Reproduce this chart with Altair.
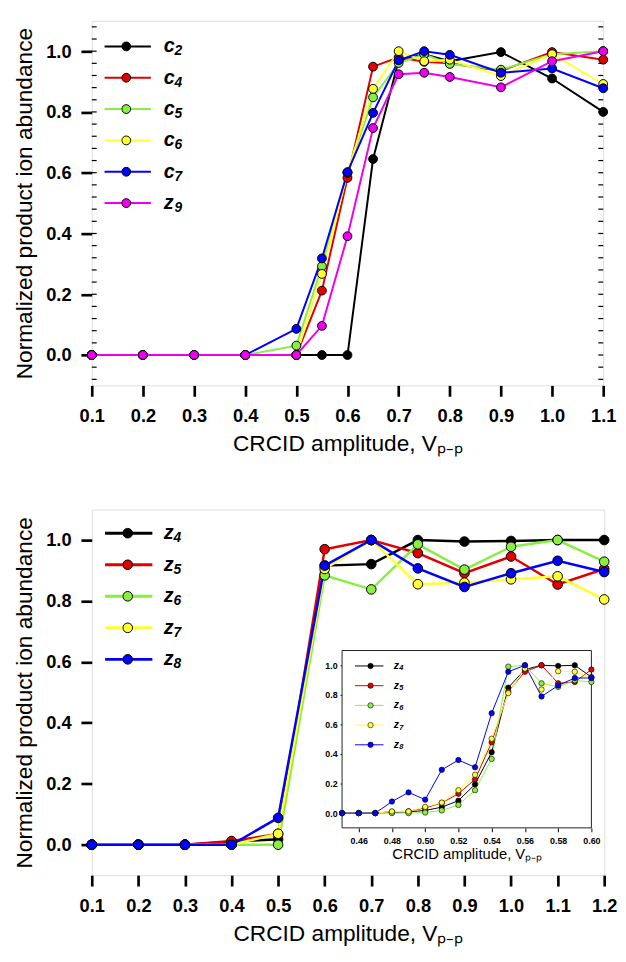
import altair as alt
import pandas as pd

FONT = "Liberation Sans"

# ---------------- data ----------------
top_x = [0.1, 0.2, 0.3, 0.4, 0.5, 0.55, 0.6, 0.65, 0.7, 0.75, 0.8, 0.9, 1.0, 1.1]
top_keys = ["c2", "c4", "c5", "c6", "c7", "z9"]          # ion letter + index
c2 = [0, 0, 0, 0, 0, 0, 0, 0.645, 0.97, 0.99, 0.967, 0.997, 0.91, 0.80]
c4 = [0, 0, 0, 0, 0, 0.212, 0.583, 0.949, 0.98, 0.965, 0.96, 0.935, 0.997, 0.972]
c5 = [0, 0, 0, 0, 0.031, 0.292, 0.60, 0.848, 0.961, 0.99, 0.958, 0.939, 0.99, 1.0]
c6 = [0, 0, 0, 0, 0, 0.267, 0.60, 0.876, 1.0, 0.967, 0.972, 0.918, 0.99, 0.892]
c7 = [0, 0, 0, 0, 0.086, 0.318, 0.602, 0.797, 0.97, 1.0, 0.988, 0.929, 0.943, 0.878]
z9 = [0, 0, 0, 0, 0, 0.096, 0.391, 0.747, 0.924, 0.929, 0.915, 0.881, 0.967, 1.0]
top_series = [c2, c4, c5, c6, c7, z9]
top_colors = ["#000000", "#e00000", "#88ee44", "#ffff33", "#0000ff", "#ee00ee"]

bot_x = [0.1, 0.2, 0.3, 0.4, 0.5, 0.6, 0.7, 0.8, 0.9, 1.0, 1.1, 1.2]
bot_keys = ["z4", "z5", "z6", "z7", "z8"]
z4 = [0, 0, 0, 0.01, 0.018, 0.916, 0.921, 1.0, 0.995, 0.997, 1.0, 1.0]
z5 = [0, 0, 0, 0.012, 0.035, 0.97, 1.0, 0.957, 0.891, 0.946, 0.854, 0.905]
z6 = [0, 0, 0, 0, 0, 0.884, 0.838, 0.986, 0.903, 0.978, 1.0, 0.929]
z7 = [0, 0, 0, 0, 0.036, 0.905, 1.0, 0.855, 0.86, 0.871, 0.881, 0.805]
z8 = [0, 0, 0, 0, 0.088, 0.916, 1.0, 0.907, 0.846, 0.891, 0.932, 0.895]
bot_series = [z4, z5, z6, z7, z8]
bot_colors = ["#000000", "#e00000", "#88ee44", "#ffff33", "#0000ff"]

ins_x = [0.45, 0.46, 0.47, 0.48, 0.49, 0.50, 0.51, 0.52, 0.53, 0.54, 0.55, 0.56, 0.57, 0.58, 0.59, 0.60]
iz4 = [0, 0, 0, 0.005, 0.008, 0.018, 0.04, 0.084, 0.195, 0.412, 0.849, 0.971, 1.0, 0.996, 1.0, 0.92]
iz5 = [0, 0, 0, 0.01, 0.012, 0.035, 0.069, 0.131, 0.228, 0.479, 0.823, 0.956, 1.0, 0.878, 0.887, 0.971]
iz6 = [0, 0, 0, 0, 0, 0.004, 0.018, 0.055, 0.155, 0.366, 0.991, 1.0, 0.878, 0.854, 0.898, 0.887]
iz7 = [0, 0, 0, 0.011, 0.011, 0.042, 0.071, 0.155, 0.259, 0.503, 0.812, 0.978, 0.836, 0.96, 0.956, 0.916]
iz8 = [0, 0, 0, 0.078, 0.14, 0.091, 0.293, 0.359, 0.31, 0.676, 0.956, 1.0, 0.789, 0.863, 0.914, 0.914]
ins_series = [iz4, iz5, iz6, iz7, iz8]

top_xticks = [0.1, 0.2, 0.3, 0.4, 0.5, 0.6, 0.7, 0.8, 0.9, 1.0, 1.1]
bot_xticks = [0.1, 0.2, 0.3, 0.4, 0.5, 0.6, 0.7, 0.8, 0.9, 1.0, 1.1, 1.2]
y_ticks = [0.0, 0.2, 0.4, 0.6, 0.8, 1.0]
ins_xticks = [0.46, 0.48, 0.50, 0.52, 0.54, 0.56, 0.58, 0.60]
minor_ticks = [-0.08, -0.04, 0.0, 0.04, 0.08, 0.12, 0.16, 0.20, 0.24, 0.28, 0.32,
               0.36, 0.40, 0.44, 0.48, 0.52, 0.56, 0.60, 0.64, 0.68, 0.72, 0.76,
               0.80, 0.84, 0.88, 0.92, 0.96, 1.00, 1.04, 1.08]

Y_DOM = [-0.1, 1.1]
TOP_XDOM = [0.1, 1.1]
BOT_XDOM = [0.1, 1.2]
INS_XDOM = [0.45, 0.60]

XTITLE = "CRCID amplitude, Vₚ₋ₚ"
YTITLE = "Normalized product ion abundance"


def long_df(xs, keys, series, tag):
    rows = []
    for k, s in zip(keys, series):
        for x, y in zip(xs, s):
            # s: line key, k: dot key, d: subscript key (distinct legend domains)
            rows.append({"x": x, "y": y, "s": k + tag, "k": k + tag + ".", "d": k + tag + ":"})
    return pd.DataFrame(rows)


AX = dict(labelFont=FONT, labelFontSize=18.5, labelFontWeight="bold", labelColor="black",
          tickColor="black", tickWidth=2.7, tickSize=11, domain=False,
          grid=False, titleFont=FONT, titleFontSize=23, titleFontWeight="normal",
          titleColor="black", labelOverlap=False, labelFlush=False)


def main_x(dom, ticks):
    return alt.X("x:Q", scale=alt.Scale(domain=dom, nice=False, zero=False),
                 axis=alt.Axis(values=ticks, format=".1f", title=XTITLE, labelPadding=11,
                               titlePadding=8, **AX))


def main_y():
    return alt.Y("y:Q", scale=alt.Scale(domain=Y_DOM, nice=False, zero=False),
                 axis=alt.Axis(values=y_ticks, format=".1f", title=YTITLE, labelPadding=10,
                               titlePadding=9, **AX))


COMMON_LEG = dict(title=None, orient="none", padding=0, direction="vertical",
                  labelFont=FONT, labelColor="black")


def line_legend(x, y, length, width, fsize, clip, rowpad, offset):
    # coloured line + ion letter
    return alt.Legend(legendX=x, legendY=y, symbolType="stroke", symbolSize=length * length,
                      symbolStrokeWidth=width, labelFontSize=fsize, labelFontStyle="italic",
                      labelFontWeight="bold", labelOffset=offset, clipHeight=clip,
                      rowPadding=rowpad, labelExpr="substring(datum.label, 0, 1)", **COMMON_LEG)


def dot_legend(x, y, size, sw, clip, rowpad):
    # filled circle with black outline, no label
    return alt.Legend(legendX=x, legendY=y, symbolType="circle", symbolSize=size,
                      symbolStrokeColor="black", symbolStrokeWidth=sw, symbolOpacity=1,
                      labelOpacity=0, labelFontSize=6, clipHeight=clip, rowPadding=rowpad,
                      **COMMON_LEG)


def sub_legend(x, y, fsize, clip, rowpad):
    # subscript index, drawn lower and smaller
    return alt.Legend(legendX=x, legendY=y, symbolType="circle", symbolSize=1, symbolOpacity=0,
                      symbolStrokeWidth=0, labelFontSize=fsize, labelFontStyle="italic",
                      labelFontWeight="bold", labelOffset=0, clipHeight=clip, rowPadding=rowpad,
                      labelExpr="substring(datum.label, 1, 2)", **COMMON_LEG)


def series_layers(df, keys, tag, colors, xenc, yenc, lw, psize, psw, leg):
    skeys = [k + tag for k in keys]
    kkeys = [k + tag + "." for k in keys]
    dkeys = [k + tag + ":" for k in keys]
    lines = alt.Chart(df).mark_line(strokeWidth=lw).encode(
        x=xenc, y=yenc,
        stroke=alt.Stroke("s:N", scale=alt.Scale(domain=skeys, range=colors), legend=leg[0]),
    )
    pts = alt.Chart(df).mark_point(filled=True, size=psize, stroke="black",
                                   strokeWidth=psw, opacity=1).encode(
        x=xenc, y=yenc,
        fill=alt.Fill("k:N", scale=alt.Scale(domain=kkeys, range=colors), legend=leg[1]),
        shape=alt.Shape("d:N", scale=alt.Scale(domain=dkeys, range=["circle"] * len(keys)),
                        legend=leg[2]),
    )
    return lines, pts


# ---------------- top chart ----------------
W1, H1 = 519, 370
df_top = long_df(top_x, top_keys, top_series, "")
top_lines, top_pts = series_layers(
    df_top, top_keys, "", top_colors, main_x(TOP_XDOM, top_xticks), main_y(), 2, 80, 1,
    (line_legend(12, 15, 47, 2, 20, 22, 9.8, 12),
     dot_legend(30, 15, 80, 1, 22, 9.8),
     sub_legend(70, 20, 14, 22, 9.8)))

df_minor = pd.DataFrame({"y": minor_ticks})
minor_l = alt.Chart(df_minor).mark_rule(color="black", strokeWidth=1.2).encode(
    y=main_y(), x=alt.value(0), x2=alt.value(5))
minor_r = alt.Chart(df_minor).mark_rule(color="black", strokeWidth=1.2).encode(
    y=main_y(), x=alt.value(W1 - 5), x2=alt.value(W1))

top = alt.layer(minor_l, minor_r, top_lines, top_pts).properties(width=W1, height=H1)

# ---------------- bottom chart ----------------
W2, H2 = 520, 371
df_bot = long_df(bot_x, bot_keys, bot_series, "")
bot_lines, bot_pts = series_layers(
    df_bot, bot_keys, "", bot_colors, main_x(BOT_XDOM, bot_xticks), main_y(), 2.5, 95, 1,
    (line_legend(12, 13, 48, 3, 20, 22, 10, 10),
     dot_legend(31, 13, 95, 1, 22, 10),
     sub_legend(69, 18, 14, 22, 10)))
main_layer = alt.layer(bot_lines, bot_pts)

# inset
IX_RANGE = [254, 507]
IY_RANGE = [323, 143]
IAX = dict(labelFont=FONT, labelFontSize=9, labelFontWeight="bold", labelColor="black",
           tickColor="black", tickWidth=1, domain=False, grid=False, labelOverlap=False,
           labelFlush=False)
ins_x_enc = alt.X("x:Q", scale=alt.Scale(domain=INS_XDOM, range=IX_RANGE, nice=False, zero=False),
                  axis=alt.Axis(orient="bottom", offset=-(H2 - IY_RANGE[0]), values=ins_xticks,
                                format=".2f", tickSize=4, labelPadding=5, title=XTITLE,
                                titleFont=FONT, titleFontSize=15, titleFontWeight="normal",
                                titleColor="black", titlePadding=1, **IAX))
ins_y_enc = alt.Y("y:Q", scale=alt.Scale(domain=Y_DOM, range=IY_RANGE, nice=False, zero=False),
                  axis=alt.Axis(orient="left", offset=-IX_RANGE[0], values=y_ticks,
                                format=".1f", tickSize=2, labelPadding=3, title=None, **IAX))

df_frame = pd.DataFrame({"x": [INS_XDOM[0]], "x2": [INS_XDOM[1]],
                         "y": [Y_DOM[0]], "y2": [Y_DOM[1]]})
ins_frame = alt.Chart(df_frame).mark_rect(fill="white", stroke="#222222", strokeWidth=1).encode(
    x=ins_x_enc, x2="x2:Q", y=ins_y_enc, y2="y2:Q")

df_ins = long_df(ins_x, bot_keys, ins_series, "i")
ins_lines, ins_pts = series_layers(
    df_ins, bot_keys, "i", bot_colors, ins_x_enc, ins_y_enc, 1, 30, 0.6,
    (line_legend(266.5, 152.7, 29, 1, 10.5, 12, 8, 10),
     dot_legend(279.4, 152.7, 30, 0.6, 12, 8),
     sub_legend(304.5, 155.2, 7.5, 12, 8)))
inset_layer = alt.layer(ins_frame, ins_lines, ins_pts)

bottom = alt.layer(main_layer, inset_layer).resolve_scale(
    x="independent", y="independent", stroke="independent", fill="independent",
    shape="independent"
).properties(width=W2, height=H2)

chart = alt.vconcat(top, bottom, spacing=53).resolve_scale(
    stroke="independent", fill="independent", shape="independent"
).properties(
    padding={"left": 5, "top": 5, "right": 0, "bottom": 0}
).configure_view(stroke="black", strokeWidth=2.7).configure(font=FONT, background="white")

chart.save("out.html", embed_options={"renderer": "svg", "actions": False})
